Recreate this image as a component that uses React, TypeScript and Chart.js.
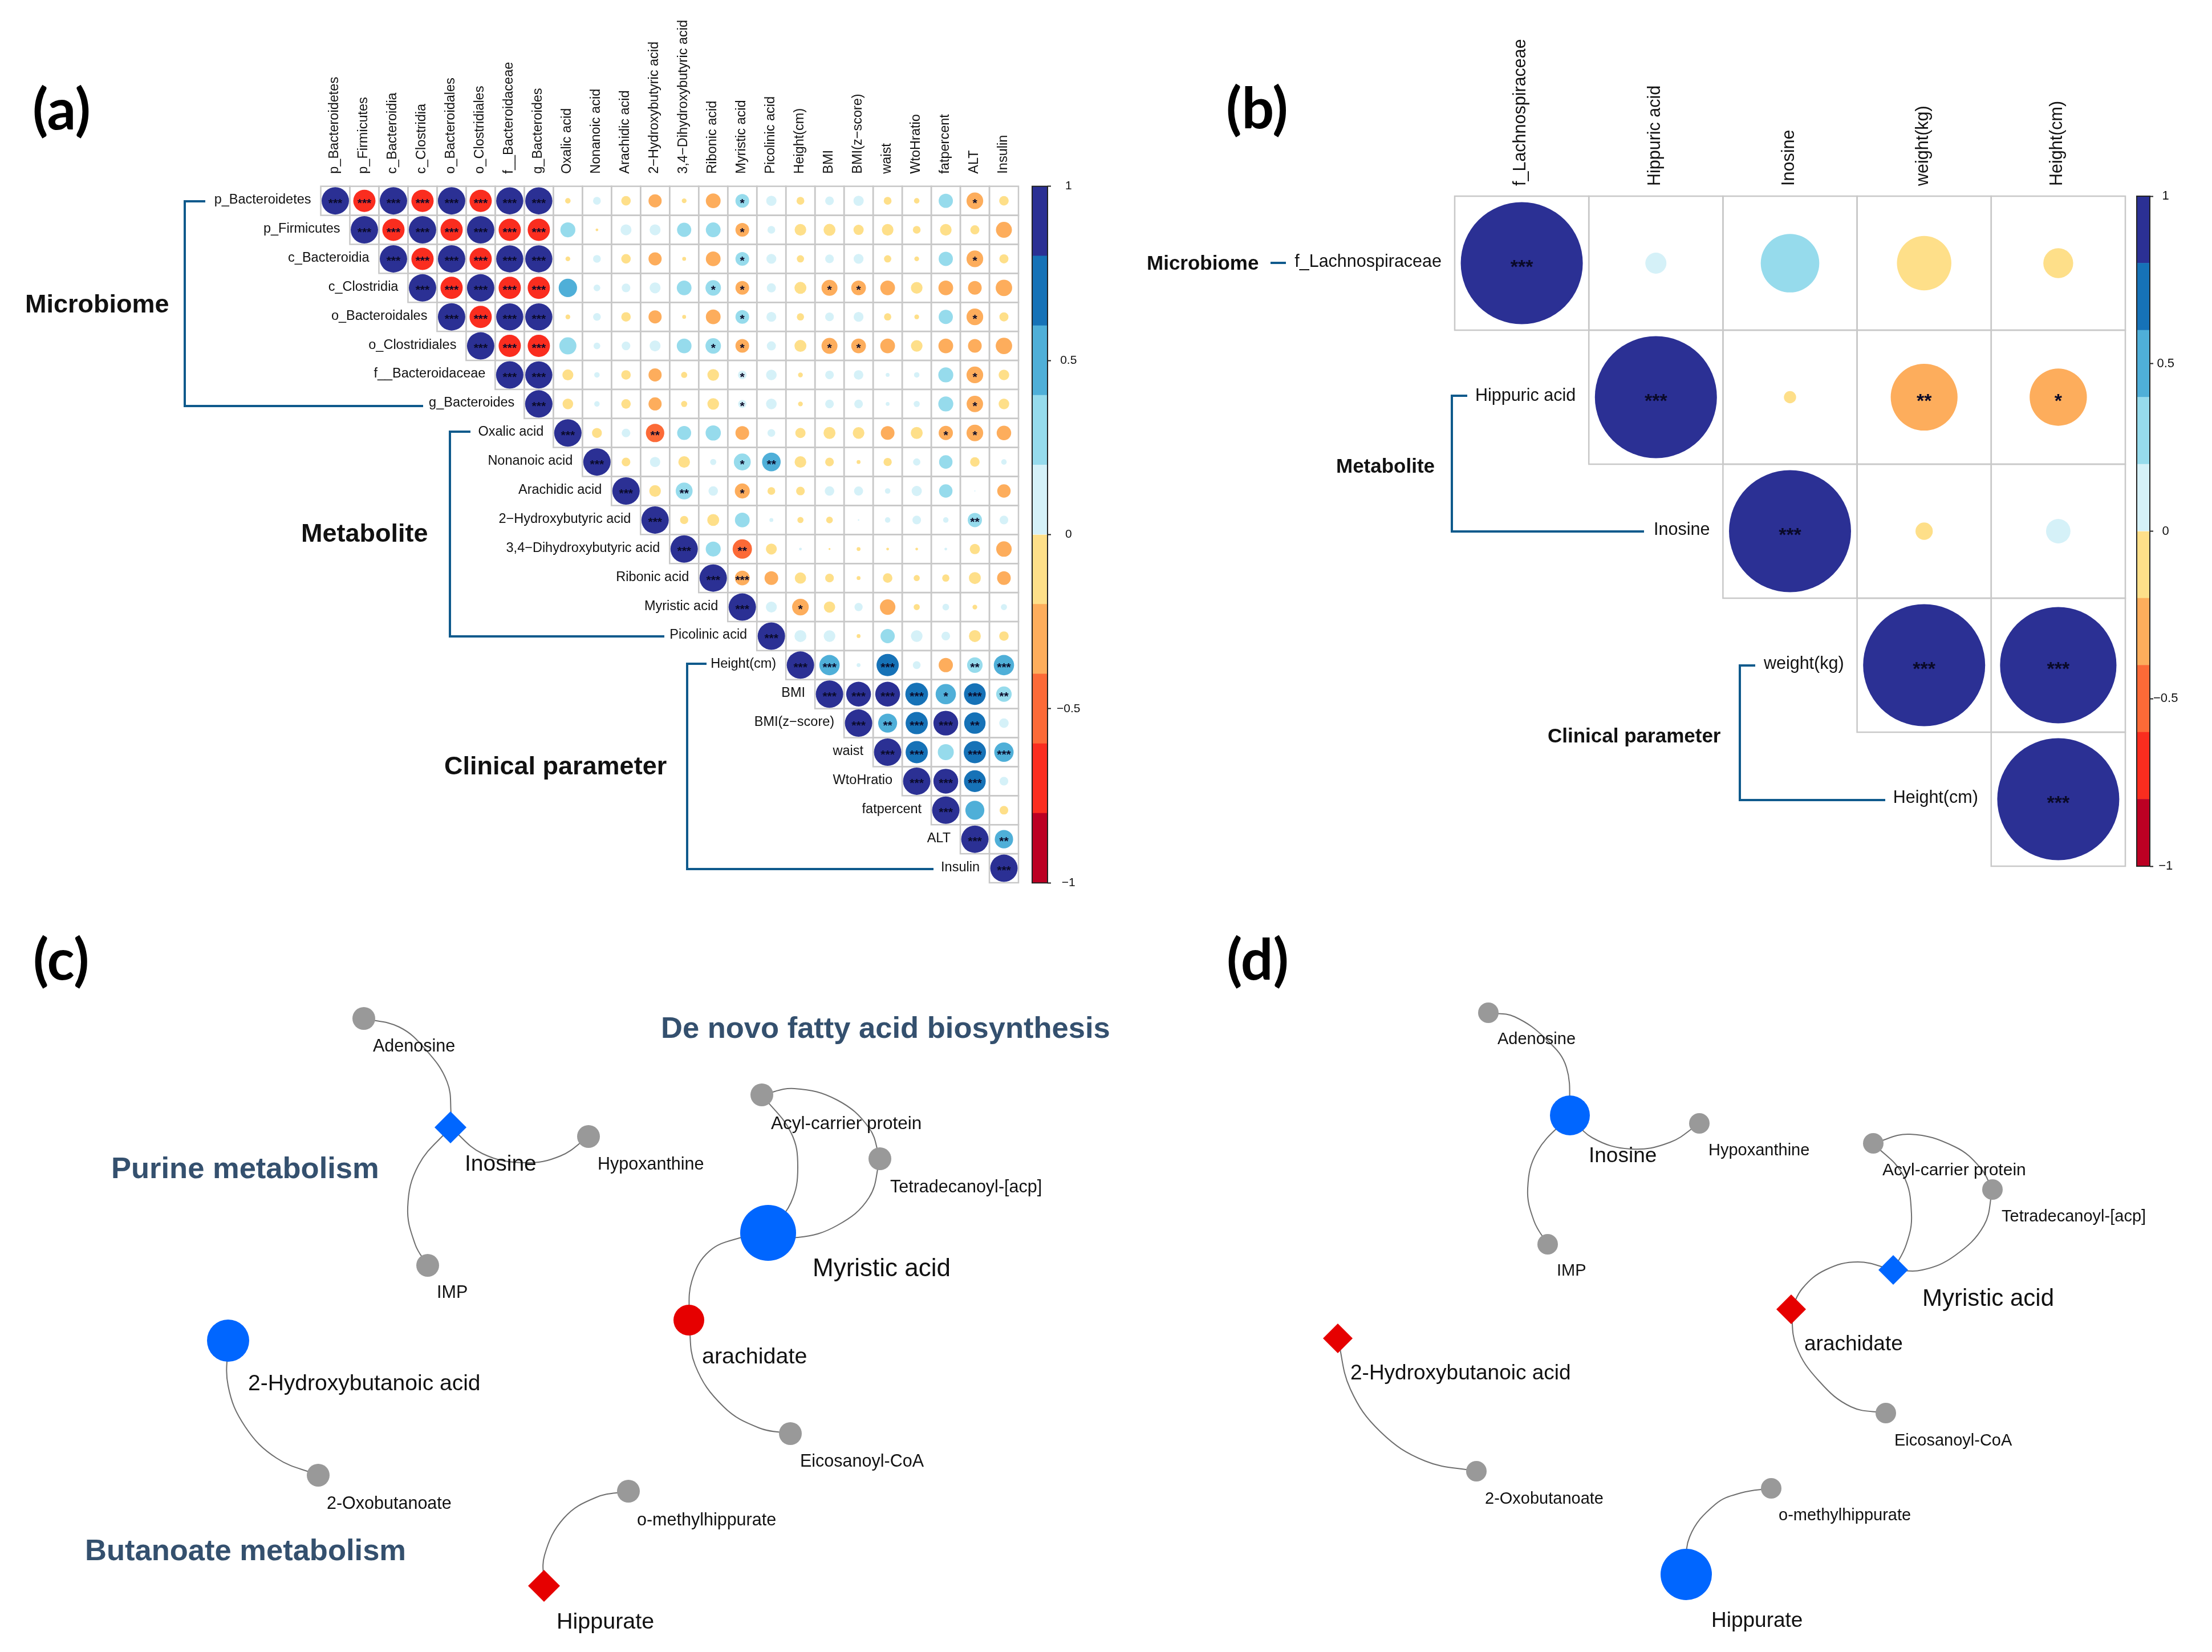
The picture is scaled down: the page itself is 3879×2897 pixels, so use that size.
import React, { useEffect, useRef } from "react";
import { Chart, registerables } from "chart.js";

Chart.register(...registerables);

/* ---------- panel (a) data ---------- */
const varsA = [
  "p_Bacteroidetes", "p_Firmicutes", "c_Bacteroidia", "c_Clostridia", "o_Bacteroidales", "o_Clostridiales",
  "f__Bacteroidaceae", "g_Bacteroides", "Oxalic acid", "Nonanoic acid", "Arachidic acid", "2\u2212Hydroxybutyric acid",
  "3,4\u2212Dihydroxybutyric acid", "Ribonic acid", "Myristic acid", "Picolinic acid", "Height(cm)", "BMI",
  "BMI(z\u2212score)", "waist", "WtoHratio", "fatpercent", "ALT", "Insulin",
];
// each row starts at its diagonal cell
const rowPBacteroidetes = [1, -0.66, 1, -0.66, 1, -0.66, 0.98, 0.98, -0.04, 0.08, -0.12, -0.23, -0.03, -0.29, 0.25, 0.14, -0.08, 0.1, 0.14, -0.08, -0.04, 0.27, -0.37, -0.12];
const rowPFirmicutes = [1, -0.66, 1, -0.66, 1, -0.66, -0.66, 0.3, -0.01, 0.16, 0.16, 0.27, 0.29, -0.25, 0.08, -0.18, -0.19, -0.14, -0.18, -0.08, -0.18, -0.11, -0.34];
const rowCBacteroidia = [1, -0.66, 1, -0.66, 0.98, 0.98, -0.03, 0.08, -0.12, -0.23, -0.02, -0.29, 0.25, 0.13, -0.07, 0.1, 0.13, -0.07, -0.03, 0.27, -0.37, -0.11];
const rowCClostridia = [1, -0.66, 1, -0.66, -0.66, 0.45, 0.06, 0.1, 0.16, 0.29, 0.32, -0.25, 0.11, -0.19, -0.34, -0.29, -0.29, -0.18, -0.29, -0.25, -0.36];
const rowOBacteroidales = [1, -0.66, 0.98, 0.98, -0.03, 0.08, -0.12, -0.23, -0.02, -0.29, 0.25, 0.13, -0.07, 0.1, 0.13, -0.07, -0.03, 0.27, -0.37, -0.11];
const rowOClostridiales = [1, -0.66, -0.66, 0.39, 0.06, 0.1, 0.16, 0.29, 0.32, -0.25, 0.11, -0.19, -0.34, -0.29, -0.29, -0.18, -0.29, -0.25, -0.36];
const rowFBacteroidaceae = [1, 0.98, -0.16, 0.04, -0.12, -0.23, -0.05, -0.18, 0.1, 0.15, -0.03, 0.1, 0.12, 0.02, 0.04, 0.3, -0.37, -0.15];
const rowGBacteroides = [1, -0.15, 0.04, -0.12, -0.23, -0.05, -0.18, 0.09, 0.15, -0.03, 0.1, 0.1, 0.02, 0.05, 0.3, -0.36, -0.15];
const rowOxalic = [1, -0.13, 0.1, -0.45, 0.26, 0.31, -0.25, 0.08, -0.14, -0.19, -0.18, -0.25, -0.19, -0.27, -0.37, -0.28];
const rowNonanoic = [1, -0.1, 0.14, -0.18, 0.05, 0.38, 0.46, -0.18, -0.1, -0.02, -0.09, 0.07, 0.24, -0.12, 0.04];
const rowArachidic = [1, -0.18, 0.38, 0.12, -0.3, -0.08, -0.1, 0.12, 0.11, 0.04, 0.14, 0.24, 0.002, -0.24];
const rowHydroxybutyric = [1, -0.09, -0.19, 0.29, 0.02, -0.05, -0.06, 0.003, 0.04, 0.1, 0.04, 0.27, 0.1];
const rowDihydroxybutyric = [1, 0.3, -0.5, -0.16, 0.01, -0.005, -0.02, -0.01, -0.01, 0.01, -0.14, -0.32];
const rowRibonic = [1, -0.29, -0.25, -0.17, -0.1, -0.02, -0.12, -0.05, -0.07, -0.19, -0.25];
const rowMyristic = [1, 0.16, -0.37, -0.17, 0.09, -0.32, -0.05, 0.06, -0.03, 0.05];
const rowPicolinic = [1, 0.19, 0.18, -0.02, 0.27, 0.18, 0.1, -0.19, -0.12];
const rowHeight = [1, 0.55, 0.02, 0.66, 0.08, -0.27, 0.32, 0.55];
const rowBMI = [1, 0.82, 0.82, 0.69, 0.55, 0.63, 0.32];
const rowBMIz = [1, 0.48, 0.66, 0.82, 0.61, 0.12];
const rowWaist = [1, 0.66, 0.34, 0.66, 0.5];
const rowWtoH = [1, 0.82, 0.63, 0.1];
const rowFat = [1, 0.48, -0.1];
const rowALT = [1, 0.45];
const rowInsulin = [1];
const valuesA = [
  rowPBacteroidetes, rowPFirmicutes, rowCBacteroidia, rowCClostridia, rowOBacteroidales, rowOClostridiales,
  rowFBacteroidaceae, rowGBacteroides, rowOxalic, rowNonanoic, rowArachidic, rowHydroxybutyric, rowDihydroxybutyric,
  rowRibonic, rowMyristic, rowPicolinic, rowHeight, rowBMI, rowBMIz, rowWaist, rowWtoH, rowFat, rowALT, rowInsulin,
];
// number of significance stars in each cell, row by row from the diagonal
const starsA = [
  "333333330000001000000010", "33333330000001000000000", "3333330000001000000010", "333330000011001100000",
  "33330000001000000010", "3330000011001100000", "330000001000000010", "30000001000000010",
  "3002000000000110", "300001200000000", "30201000000000", "3000000000020",
  "302000000000", "33000000000", "3010000000", "300000000", "33030023", "3333132", "323320", "33033", "3330", "300", "32", "3",
];

/* ---------- panel (b) data ---------- */
const varsB = ["f_Lachnospiraceae", "Hippuric acid", "Inosine", "weight(kg)", "Height(cm)"];
const rowLachnospiraceae = [1, 0.03, 0.23, -0.199, -0.06];
const rowHippuric = [1, -0.01, -0.3, -0.22];
const rowInosine = [1, -0.02, 0.04];
const rowWeight = [1, 0.91];
const rowHeightB = [1];
const valuesB = [rowLachnospiraceae, rowHippuric, rowInosine, rowWeight, rowHeightB];
const starsB = ["30000", "3021", "300", "33", "3"];

/* ---------- colour key ---------- */
const keyBreaks = [-1, -0.8, -0.6, -0.4, -0.2, 0, 0.2, 0.4, 0.6, 0.8, 1];
const keyColors = ["#BC0023", "#FA2D1F", "#FC6A37", "#FDAD5C", "#FEDF89", "#D5F1F8", "#96DBEC", "#4FAFD8", "#1672B7", "#2B3094"];

/* ---------- networks: reference-image layout units ---------- */
const GREY = "#999999";
const BLUE = "#0066FF";
const RED = "#E60000";
const nodesC = [
  { name: "Adenosine", x: 638, y: 1786, size: 20, kind: "circle", fill: GREY },
  { name: "Inosine", x: 790, y: 1977, size: 28, kind: "rectRot", fill: BLUE },
  { name: "Hypoxanthine", x: 1032, y: 1993, size: 20, kind: "circle", fill: GREY },
  { name: "IMP", x: 750, y: 2219, size: 20, kind: "circle", fill: GREY },
  { name: "Myristic acid", x: 1347, y: 2162, size: 49, kind: "circle", fill: BLUE },
  { name: "Acyl-carrier protein", x: 1336, y: 1920, size: 20, kind: "circle", fill: GREY },
  { name: "Tetradecanoyl-[acp]", x: 1543, y: 2032, size: 20, kind: "circle", fill: GREY },
  { name: "arachidate", x: 1208, y: 2315, size: 27, kind: "circle", fill: RED },
  { name: "Eicosanoyl-CoA", x: 1386, y: 2514, size: 20, kind: "circle", fill: GREY },
  { name: "2-Hydroxybutanoic acid", x: 400, y: 2351, size: 37, kind: "circle", fill: BLUE },
  { name: "2-Oxobutanoate", x: 558, y: 2587, size: 20, kind: "circle", fill: GREY },
  { name: "Hippurate", x: 954, y: 2781, size: 28, kind: "rectRot", fill: RED },
  { name: "o-methylhippurate", x: 1102, y: 2615, size: 20, kind: "circle", fill: GREY },
];
const edgesC = [
  [[638, 1786], [700, 1801], [746, 1840], [784, 1897], [791, 1954], [790, 1977]],
  [[790, 1977], [846, 2023], [920, 2039], [983, 2027], [1032, 1993]],
  [[790, 1977], [734, 2043], [715, 2117], [728, 2182], [750, 2219]],
  [[1336, 1920], [1387, 1986], [1399, 2047], [1387, 2109], [1347, 2162]],
  [[1336, 1920], [1393, 1909], [1468, 1929], [1524, 1978], [1543, 2032]],
  [[1543, 2032], [1524, 2100], [1468, 2149], [1399, 2170], [1347, 2162]],
  [[1347, 2162], [1300, 2170], [1244, 2194], [1213, 2247], [1208, 2315]],
  [[1208, 2315], [1219, 2394], [1269, 2467], [1331, 2504], [1386, 2514]],
  [[400, 2351], [400, 2430], [430, 2502], [485, 2557], [558, 2587]],
  [[954, 2781], [955, 2727], [989, 2662], [1045, 2626], [1102, 2615]],
];
const nodesD = [
  { name: "Adenosine", x: 2610, y: 1776, size: 18, kind: "circle", fill: GREY },
  { name: "Inosine", x: 2753, y: 1956, size: 35, kind: "circle", fill: BLUE },
  { name: "Hypoxanthine", x: 2980, y: 1970, size: 18, kind: "circle", fill: GREY },
  { name: "IMP", x: 2714, y: 2182, size: 18, kind: "circle", fill: GREY },
  { name: "Myristic acid", x: 3320, y: 2227, size: 26, kind: "rectRot", fill: BLUE },
  { name: "Acyl-carrier protein", x: 3285, y: 2005, size: 18, kind: "circle", fill: GREY },
  { name: "Tetradecanoyl-[acp]", x: 3494, y: 2086, size: 18, kind: "circle", fill: GREY },
  { name: "arachidate", x: 3141, y: 2296, size: 26, kind: "rectRot", fill: RED },
  { name: "Eicosanoyl-CoA", x: 3307, y: 2478, size: 18, kind: "circle", fill: GREY },
  { name: "2-Hydroxybutanoic acid", x: 2346, y: 2347, size: 26, kind: "rectRot", fill: RED },
  { name: "2-Oxobutanoate", x: 2589, y: 2580, size: 18, kind: "circle", fill: GREY },
  { name: "Hippurate", x: 2957, y: 2761, size: 45, kind: "circle", fill: BLUE },
  { name: "o-methylhippurate", x: 3106, y: 2610, size: 18, kind: "circle", fill: GREY },
];
const edgesD = [
  [[2610, 1776], [2656, 1783], [2713, 1824], [2747, 1872], [2753, 1956]],
  [[2753, 1956], [2792, 1995], [2860, 2015], [2929, 2003], [2980, 1970]],
  [[2753, 1956], [2696, 2019], [2679, 2084], [2690, 2141], [2714, 2182]],
  [[3285, 2005], [3337, 2060], [3352, 2129], [3343, 2182], [3320, 2227]],
  [[3285, 2005], [3349, 1989], [3428, 2011], [3473, 2048], [3494, 2086]],
  [[3494, 2086], [3479, 2149], [3428, 2202], [3371, 2227], [3320, 2227]],
  [[3320, 2227], [3258, 2213], [3201, 2227], [3161, 2259], [3141, 2296]],
  [[3141, 2296], [3150, 2361], [3190, 2422], [3246, 2467], [3307, 2478]],
  [[2346, 2347], [2368, 2436], [2421, 2511], [2499, 2562], [2589, 2580]],
  [[2957, 2761], [2963, 2695], [3008, 2638], [3053, 2618], [3106, 2610]],
];

/* ---------- text and decoration layout ---------- */
const SANS = '"Liberation Sans", Arial, sans-serif';
const INK = "#111111";
const SLATE = "#34506E";
const LINE = "#0F5A8C";
const txt = (text, x, y, size, weight = "normal", color = INK, face = SANS, align = "left") => ({ text, x, y, size, weight, color, face, align });

const textsA = [
  txt("(a)", 57, 192, 100, "bold", "#000", "Lato"),
  txt("Microbiome", 44, 533, 45, "bold"),
  txt("Metabolite", 528, 935, 45, "bold"),
  txt("Clinical parameter", 779, 1343, 45, "bold"),
];
const bracketsA = [
  [[360, 353], [324, 353], [324, 712], [742, 712]],
  [[825, 757], [789, 757], [789, 1116], [1165, 1116]],
  [[1239, 1164], [1205, 1164], [1205, 1524], [1637, 1524]],
];
const textsB = [
  txt("(b)", 2150, 190, 100, "bold", "#000", "Lato"),
  txt("Microbiome", 2011, 460, 35, "bold"),
  txt("Metabolite", 2343, 816, 35, "bold"),
  txt("Clinical parameter", 2714, 1289, 35, "bold"),
];
const bracketsB = [
  [[2228, 461], [2255, 461]],
  [[2573, 694], [2546, 694], [2546, 932], [2883, 932]],
  [[3078, 1167], [3051, 1167], [3051, 1403], [3306, 1403]],
];
const textsC = [
  txt("(c)", 58, 1683, 100, "bold", "#000", "Lato"),
  txt("De novo fatty acid biosynthesis", 1159, 1803, 52.5, "bold", SLATE),
  txt("Purine metabolism", 195, 2049, 52.5, "bold", SLATE),
  txt("Butanoate metabolism", 149, 2719, 52.5, "bold", SLATE),
  txt("Adenosine", 654, 1833, 30.5),
  txt("Inosine", 815, 2039, 39),
  txt("Hypoxanthine", 1048, 2040, 30.5),
  txt("IMP", 766, 2265, 30.5),
  txt("Acyl-carrier protein", 1352, 1968, 31.5),
  txt("Tetradecanoyl-[acp]", 1561, 2080, 30.5),
  txt("Myristic acid", 1425, 2223, 44),
  txt("arachidate", 1231, 2377, 39.5),
  txt("Eicosanoyl-CoA", 1403, 2561, 30.5),
  txt("2-Hydroxybutanoic acid", 435, 2424, 39),
  txt("2-Oxobutanoate", 573, 2635, 30.5),
  txt("o-methylhippurate", 1117, 2664, 30.5),
  txt("Hippurate", 976, 2842, 39.5),
];
const textsD = [
  txt("(d)", 2151, 1683, 100, "bold", "#000", "Lato"),
  txt("Adenosine", 2626, 1820, 29),
  txt("Inosine", 2786, 2025, 37),
  txt("Hypoxanthine", 2996, 2015, 29),
  txt("IMP", 2730, 2226, 29),
  txt("Acyl-carrier protein", 3301, 2050, 30),
  txt("Tetradecanoyl-[acp]", 3510, 2131, 29),
  txt("Myristic acid", 3371, 2275, 42),
  txt("arachidate", 3164, 2355, 37),
  txt("Eicosanoyl-CoA", 3322, 2524, 29),
  txt("2-Hydroxybutanoic acid", 2368, 2406, 37),
  txt("2-Oxobutanoate", 2604, 2626, 29),
  txt("o-methylhippurate", 3119, 2655, 29),
  txt("Hippurate", 3001, 2840, 37),
];

const binColor = (v) => keyColors[Math.min(9, Math.max(0, Math.floor((v + 1) / 0.2 + 1e-9)))];

function drawTexts(ctx, list, originX = 0, originY = 0) {
  ctx.save();
  ctx.textBaseline = "middle";
  list.forEach((t) => {
    ctx.font = `${t.weight} ${t.size}px ${t.face}`;
    ctx.fillStyle = t.color;
    ctx.textAlign = t.align;
    ctx.fillText(t.text, t.x - originX, t.y - originY + 3);
  });
  ctx.restore();
}

function corrConfig(p) {
  const n = p.vars.length;
  const points = [];
  p.values.forEach((row, i) =>
    row.forEach((v, k) => {
      points.push({ x: p.vars[i + k], y: p.vars[i], r: p.maxR * Math.sqrt(Math.abs(v)), v });
    })
  );
  const decor = {
    id: "corrDecor",
    beforeDatasetsDraw(chart) {
      const { ctx, scales } = chart;
      const w = scales.x.width / n;
      const h = scales.y.height / n;
      ctx.save();
      ctx.strokeStyle = "#C8C8C8";
      ctx.lineWidth = p.gridWidth;
      for (let i = 0; i < n; i++) {
        for (let j = i; j < n; j++) {
          ctx.strokeRect(scales.x.getPixelForValue(j) - w / 2, scales.y.getPixelForValue(i) - h / 2, w, h);
        }
      }
      ctx.restore();
    },
    afterDatasetsDraw(chart) {
      const { ctx, scales } = chart;
      const w = scales.x.width / n;
      ctx.save();
      // significance stars
      ctx.fillStyle = "#0A0A28";
      ctx.font = `bold ${p.starSize}px ${SANS}`;
      ctx.textAlign = "center";
      ctx.textBaseline = "alphabetic";
      p.stars.forEach((row, i) => {
        [...row].forEach((c, k) => {
          if (c !== "0") {
            ctx.fillText("*".repeat(+c), scales.x.getPixelForValue(i + k), scales.y.getPixelForValue(i) + p.starSize * 0.5);
          }
        });
      });
      // row labels sit against the diagonal
      ctx.fillStyle = INK;
      ctx.font = `${p.labelSize}px ${SANS}`;
      ctx.textAlign = "right";
      ctx.textBaseline = "middle";
      p.vars.forEach((name, i) => {
        ctx.fillText(name, scales.x.getPixelForValue(i) - w / 2 - p.labelGap, scales.y.getPixelForValue(i) - 1.5);
      });
      // group brackets
      ctx.strokeStyle = LINE;
      ctx.lineWidth = p.lineWidth;
      ctx.lineJoin = "miter";
      p.brackets.forEach((path) => {
        ctx.beginPath();
        path.forEach(([x, y], idx) => (idx ? ctx.lineTo(x, y) : ctx.moveTo(x, y)));
        ctx.stroke();
      });
      ctx.restore();
      drawTexts(ctx, p.texts, p.left, 0);
    },
  };
  return {
    type: "bubble",
    data: {
      datasets: [
        {
          data: points,
          radius: 0,
          hoverRadius: 0,
          borderWidth: 0,
          backgroundColor: (c) => (c.raw ? binColor(c.raw.v) : "#000"),
          clip: false,
        },
      ],
    },
    options: {
      animation: false,
      responsive: false,
      devicePixelRatio: 1,
      layout: { padding: p.padding, autoPadding: false },
      plugins: { legend: { display: false }, tooltip: { enabled: false }, title: { display: false } },
      scales: {
        x: {
          type: "category",
          labels: p.vars,
          position: "top",
          offset: true,
          grid: { display: false },
          border: { display: false },
          afterFit: (s) => { s.height = p.axisHeight; s.paddingLeft = 0; s.paddingRight = 0; },
          ticks: {
            autoSkip: false,
            minRotation: 90,
            maxRotation: 90,
            padding: p.tickPad,
            labelOffset: p.labelOffset,
            color: INK,
            font: { family: SANS, size: p.labelSize },
          },
        },
        y: { type: "category", labels: p.vars, offset: true, display: false },
      },
    },
    plugins: [decor],
  };
}

function keyConfig(fontSize, tickPad, tickLen, axisWidth, padY) {
  const edge = {
    id: "keyEdge",
    afterDatasetsDraw(chart) {
      const { ctx, chartArea: a } = chart;
      ctx.save();
      ctx.strokeStyle = "#222";
      ctx.lineWidth = 2;
      ctx.strokeRect(a.left, a.top, a.right - a.left, a.bottom - a.top);
      ctx.restore();
    },
  };
  return {
    type: "bar",
    data: {
      labels: ["key"],
      datasets: keyColors.map((c, i) => ({
        data: [[keyBreaks[i], keyBreaks[i + 1]]],
        backgroundColor: c,
        borderWidth: 0,
        grouped: false,
        barPercentage: 1,
        categoryPercentage: 1,
      })),
    },
    options: {
      animation: false,
      responsive: false,
      devicePixelRatio: 1,
      layout: { padding: { left: 20, top: padY, bottom: padY, right: 0 }, autoPadding: false },
      plugins: { legend: { display: false }, tooltip: { enabled: false } },
      scales: {
        x: { display: false },
        y: {
          position: "right",
          min: -1,
          max: 1,
          afterFit: (s) => { s.width = axisWidth; s.paddingTop = 0; s.paddingBottom = 0; },
          grid: { drawOnChartArea: false, color: "#222", tickLength: tickLen, tickWidth: 2 },
          border: { display: false },
          ticks: {
            stepSize: 0.5,
            padding: tickPad,
            crossAlign: "center",
            color: INK,
            font: { family: SANS, size: fontSize },
            callback: (v) => String(v).replace("-", "\u2212"),
          },
        },
      },
    },
    plugins: [edge],
  };
}

function netConfig(nodes, edges, texts, left, top, width, height) {
  const labels = { id: "netLabels", afterDatasetsDraw: (chart) => drawTexts(chart.ctx, texts, left, top) };
  return {
    type: "scatter",
    data: {
      datasets: [
        {
          label: "nodes",
          data: nodes.map((d) => ({ x: d.x, y: d.y })),
          pointStyle: nodes.map((d) => d.kind),
          pointRadius: nodes.map((d) => d.size),
          pointBackgroundColor: nodes.map((d) => d.fill),
          pointBorderWidth: 0,
          showLine: false,
          clip: false,
        },
        ...edges.map((path) => ({
          label: "edge",
          data: path.map(([x, y]) => ({ x, y })),
          showLine: true,
          tension: 0.4,
          borderColor: "#6E6E6E",
          borderWidth: 2,
          pointRadius: 0,
          fill: false,
        })),
      ],
    },
    options: {
      animation: false,
      responsive: false,
      devicePixelRatio: 1,
      layout: { padding: 0, autoPadding: false },
      plugins: { legend: { display: false }, tooltip: { enabled: false } },
      scales: {
        x: { type: "linear", min: left, max: left + width, display: false },
        y: { type: "linear", min: top, max: top + height, reverse: true, display: false },
      },
    },
    plugins: [labels],
  };
}

const BOXES = [
  { left: 0, top: 0, width: 1796, height: 1600 },
  { left: 1790, top: 300, width: 137, height: 1275 },
  { left: 2000, top: 0, width: 1735, height: 1600 },
  { left: 3727, top: 317, width: 120, height: 1229 },
  { left: 0, top: 1600, width: 2050, height: 1297 },
  { left: 2050, top: 1600, width: 1829, height: 1297 },
];

export default function App() {
  const refs = useRef([]);
  useEffect(() => {
    document.body.style.margin = "0";
    Chart.defaults.font.family = SANS;
    const configs = [
      corrConfig({
        vars: varsA, values: valuesA, stars: starsA, maxR: 24, gridWidth: 2.5, starSize: 21, labelSize: 23.5, labelGap: 17,
        tickPad: 14, labelOffset: 27, lineWidth: 4, axisHeight: 326.7, left: 0, texts: textsA, brackets: bracketsA,
        padding: { left: 562.5, right: 10, bottom: 52, top: 0 },
      }),
      keyConfig(21, 10, 6, 90, 26.7),
      corrConfig({
        vars: varsB, values: valuesB, stars: starsB, maxR: 107, gridWidth: 2.5, starSize: 34, labelSize: 30.5, labelGap: 23,
        tickPad: 10, labelOffset: 35, lineWidth: 4, axisHeight: 344, left: 2000, texts: textsB,
        brackets: bracketsB.map((path) => path.map(([x, y]) => [x - 2000, y])),
        padding: { left: 551, right: 8, bottom: 81, top: 0 },
      }),
      keyConfig(22, 0, 6, 77, 27),
      netConfig(nodesC, edgesC, textsC, 0, 1600, 2050, 1297),
      netConfig(nodesD, edgesD, textsD, 2050, 1600, 1829, 1297),
    ];
    const charts = configs.map((cfg, i) => new Chart(refs.current[i], cfg));
    return () => charts.forEach((c) => c.destroy());
  }, []);

  return (
    <div style={{ position: "absolute", left: 0, top: 0, width: 3879, height: 2897, overflow: "hidden", background: "#fff" }}>
      {BOXES.map((b, i) => (
        <canvas
          key={i}
          ref={(el) => { refs.current[i] = el; }}
          width={b.width}
          height={b.height}
          style={{ position: "absolute", left: b.left, top: b.top, width: b.width, height: b.height }}
        />
      ))}
    </div>
  );
}
